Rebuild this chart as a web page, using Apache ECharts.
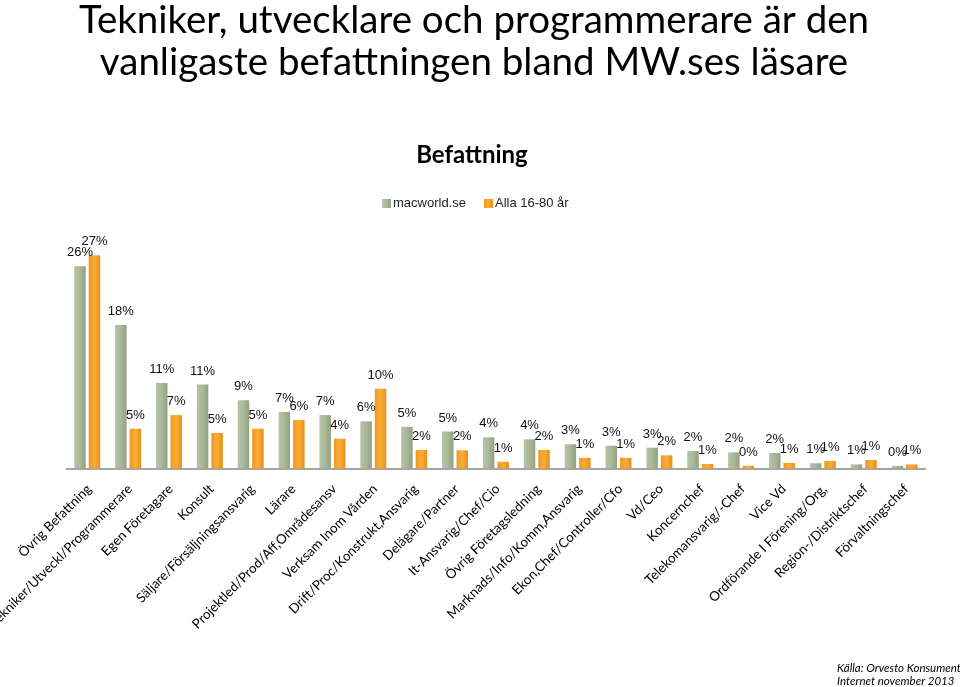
<!DOCTYPE html>
<html>
<head>
<meta charset="utf-8">
<script src="https://cdn.jsdelivr.net/npm/echarts@6/dist/echarts.min.js"></script>
<style>html,body{margin:0;padding:0;background:#fff;}#c{width:960px;height:687px;}</style>
</head>
<body>
<div id="c"></div>
<script>
var categories = [
  'Övrig Befattning', 'Tekniker/Utveckl/Programmerare', 'Egen Företagare', 'Konsult',
  'Säljare/Försäljningsansvarig', 'Lärare', 'Projektled/Prod/Aff,Områdesansv', 'Verksam Inom Vården',
  'Drift/Proc/Konstrukt,Ansvarig', 'Delägare/Partner', 'It-Ansvarig/Chef/Cio', 'Övrig Företagsledning',
  'Marknads/Info/Komm,Ansvarig', 'Ekon,Chef/Controller/Cfo', 'Vd/Ceo', 'Koncernchef',
  'Telekomansvarig/-Chef', 'Vice Vd', 'Ordförande I Förening/Org,', 'Region-/Distriktschef', 'Förvaltningschef'
];
var macworld = [25.8, 18.3, 10.9, 10.7, 8.7, 7.2, 6.8, 6.0, 5.3, 4.7, 3.96, 3.7, 3.07, 2.89, 2.63, 2.21, 2.04, 1.95, 0.64, 0.5, 0.3];
var alla = [27.2, 5.06, 6.8, 4.51, 5.06, 6.17, 3.78, 10.17, 2.34, 2.3, 0.84, 2.34, 1.35, 1.35, 1.66, 0.55, 0.33, 0.68, 0.94, 1.06, 0.5];
var seriesNames = ['macworld.se', 'Alla 16-80 år'];
var titleText = 'Tekniker, utvecklare och programmerare är den\nvanligaste befattningen bland MW.ses läsare';
var subTitle = 'Befattning';
var sourceText = 'Källa: Orvesto Konsument\nInternet november 2013';

var chart = echarts.init(document.getElementById('c'), null, {renderer: 'canvas'});
var greenGrad = new echarts.graphic.LinearGradient(0, 0, 1, 0, [
  {offset: 0, color: '#b6c4a8'}, {offset: 0.5, color: '#a8b898'}, {offset: 1, color: '#8fa27f'}
]);
var orangeGrad = new echarts.graphic.LinearGradient(0, 0, 1, 0, [
  {offset: 0, color: '#f0981f'}, {offset: 0.5, color: '#fbad35'}, {offset: 1, color: '#e88e1a'}
]);
var labelStyle = {
  show: true, position: 'top', distance: 7,
  fontFamily: 'Liberation Sans', fontSize: 13, color: '#111',
  formatter: function (p) { return Math.round(p.value) + '%'; }
};
chart.setOption({
  animation: false,
  backgroundColor: '#fff',
  graphic: [
    {type: 'text', x: 474, y: 0, style: {text: titleText, font: '38.5px Lato', fill: '#000', textAlign: 'center', textVerticalAlign: 'top', lineHeight: 42}},
    {type: 'text', x: 472, y: 143, style: {text: subTitle, font: 'bold 24px Lato', fill: '#000', textAlign: 'center', textVerticalAlign: 'top'}},
    {type: 'text', x: 837, y: 662, style: {text: sourceText, font: 'italic 11.5px Lato', fill: '#000', textAlign: 'left', textVerticalAlign: 'top', lineHeight: 13}}
  ],
  legend: {
    data: seriesNames,
    left: 377, top: 192,
    icon: 'rect', itemWidth: 9, itemHeight: 9, itemGap: 18,
    textStyle: {fontFamily: 'Liberation Sans', fontSize: 13, color: '#222', padding: [0, 0, 0, -3]}
  },
  grid: {left: 66.8, right: 35, top: 233.4, bottom: 218.7, containLabel: false, outerBoundsMode: 'none'},
  xAxis: {
    type: 'category', data: categories,
    axisLine: {lineStyle: {color: '#a6a6a6', width: 2}},
    axisTick: {show: false},
    axisLabel: {rotate: 45, interval: 0, margin: 11, verticalAlign: 'top', padding: [0, 4, 0, 0],
      fontFamily: 'Lato', fontSize: 13.3, color: '#000'}
  },
  yAxis: {type: 'value', min: 0, max: 30, show: false, splitLine: {show: false}},
  series: [
    {name: seriesNames[0], type: 'bar', data: macworld, barWidth: 11.5, barGap: '26%',
     itemStyle: {color: greenGrad}, label: labelStyle},
    {name: seriesNames[1], type: 'bar', data: alla, barWidth: 11.5, barGap: '26%',
     itemStyle: {color: orangeGrad}, label: labelStyle}
  ]
});
</script>
</body>
</html>
